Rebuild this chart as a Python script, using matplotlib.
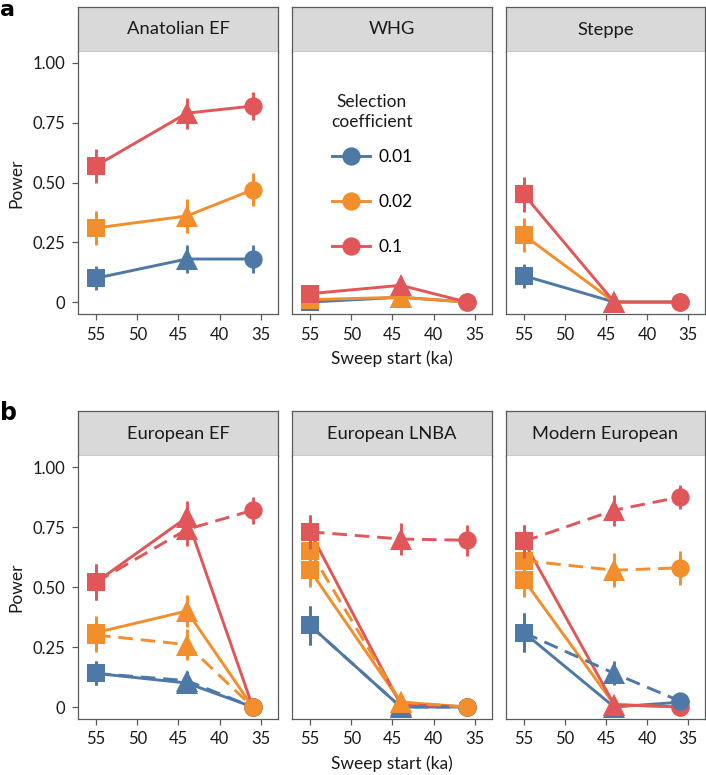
#!/usr/bin/env python3
"""
Selective sweep detection power by sweep start time, per population.
Panel a: source populations; panel b: European populations
(solid / dashed = two sampling scenarios).
"""

import matplotlib
matplotlib.use("Agg")
import matplotlib.pyplot as plt
from matplotlib.lines import Line2D

plt.rcParams["font.family"] = ["Lato", "DejaVu Sans"]

# ---- data -----------------------------------------------------------------
sweep_start = [55, 44, 36]
coef_labels = ["0.01", "0.02", "0.1"]
coef_colors = ["#4E79A7", "#F28E2B", "#E15759"]
shapes = ["s", "^", "o"]

pops_a = ["Anatolian EF", "WHG", "Steppe"]
power_a = {
    "Anatolian EF": [[0.10, 0.18, 0.18], [0.31, 0.36, 0.47], [0.57, 0.79, 0.82]],
    "WHG": [[0.0, 0.02, 0.0], [0.01, 0.02, 0.0], [0.035, 0.07, 0.0]],
    "Steppe": [[0.11, 0.0, 0.0], [0.28, 0.0, 0.0], [0.45, 0.0, 0.0]],
}
err_a = {
    "Anatolian EF": [[0.05, 0.06, 0.06], [0.07, 0.07, 0.07], [0.07, 0.065, 0.06]],
    "WHG": [[0.0, 0.02, 0.0], [0.015, 0.02, 0.0], [0.025, 0.035, 0.0]],
    "Steppe": [[0.05, 0.0, 0.0], [0.07, 0.0, 0.0], [0.075, 0.0, 0.0]],
}

pops_b = ["European EF", "European LNBA", "Modern European"]
power_b_solid = {
    "European EF": [[0.14, 0.10, 0.0], [0.31, 0.40, 0.0], [0.52, 0.79, 0.0]],
    "European LNBA": [[0.34, 0.0, 0.0], [0.57, 0.02, 0.0], [0.73, 0.01, 0.0]],
    "Modern European": [[0.31, 0.0, 0.02], [0.53, 0.01, 0.0], [0.69, 0.01, 0.0]],
}
power_b_dashed = {
    "European EF": [[0.14, 0.11, 0.0], [0.30, 0.26, 0.0], [0.52, 0.74, 0.82]],
    "European LNBA": [[0.34, 0.0, 0.0], [0.65, 0.02, 0.0], [0.73, 0.70, 0.695]],
    "Modern European": [[0.31, 0.14, 0.025], [0.61, 0.57, 0.58], [0.69, 0.82, 0.875]],
}
err_b_solid = {
    "European EF": [[0.05, 0.04, 0.0], [0.07, 0.065, 0.0], [0.075, 0.07, 0.0]],
    "European LNBA": [[0.08, 0.0, 0.0], [0.07, 0.02, 0.0], [0.07, 0.01, 0.0]],
    "Modern European": [[0.08, 0.0, 0.02], [0.07, 0.01, 0.0], [0.07, 0.01, 0.0]],
}
err_b_dashed = {
    "European EF": [[0.05, 0.04, 0.0], [0.07, 0.065, 0.0], [0.075, 0.07, 0.057]],
    "European LNBA": [[0.08, 0.0, 0.0], [0.07, 0.02, 0.0], [0.07, 0.065, 0.065]],
    "Modern European": [[0.08, 0.05, 0.02], [0.07, 0.07, 0.07], [0.07, 0.065, 0.05]],
}

# ---- layout helpers ------------------------------------------------------
W, H = 706, 775
FRAME = "#5a5a5a"
TXT = "#1a1a1a"
MS = {"s": 13.3, "^": 16.5, "o": 13.2}
LW = 2.1


def px_rect(x0, y0, x1, y1):
    return [x0 / W, 1 - y1 / H, (x1 - x0) / W, (y1 - y0) / H]


def make_panel(fig, x0, x1, strip_top, plot_top, plot_bot, title, left):
    sax = fig.add_axes(px_rect(x0, strip_top, x1, plot_top))
    sax.set_facecolor("#d9d9d9")
    sax.set_xticks([])
    sax.set_yticks([])
    for sp in sax.spines.values():
        sp.set_color(FRAME)
        sp.set_linewidth(0.9)
    sax.text(0.5, 0.5, title, ha="center", va="center", fontsize=13.2,
             color=TXT, transform=sax.transAxes)

    ax = fig.add_axes(px_rect(x0, plot_top, x1, plot_bot))
    ax.set_xlim(57.18, 32.94)
    ax.set_ylim(-0.05, 1.046)
    for sp in ax.spines.values():
        sp.set_color(FRAME)
        sp.set_linewidth(0.9)
    ax.spines["top"].set_visible(False)
    ax.set_xticks([55, 50, 45, 40, 35])
    ax.tick_params(axis="x", length=4, width=0.9, color=FRAME,
                   labelsize=12, labelcolor=TXT, pad=5)
    if left:
        ax.set_yticks([0, 0.25, 0.5, 0.75, 1.0])
        ax.set_yticklabels(["0", "0.25", "0.50", "0.75", "1.00"])
        ax.tick_params(axis="y", length=4, width=0.9, color=FRAME,
                       labelsize=12, labelcolor=TXT, pad=5)
        ax.set_ylabel("Power", fontsize=12.5, color=TXT, labelpad=6)
    else:
        ax.set_yticks([])
    return ax


def draw_series(ax, y, err, color, dashed=False):
    for xi, yi, ei in zip(sweep_start, y, err):
        if ei > 0:
            ax.plot([xi, xi], [yi - ei, yi + ei], color=color, lw=LW,
                    solid_capstyle="butt")
    kw = dict(color=color, lw=LW)
    if dashed:
        kw["dashes"] = (5.0, 2.7)
    ax.plot(sweep_start, y, **kw)
    for xi, yi, m in zip(sweep_start, y, shapes):
        ax.plot([xi], [yi], marker=m, ms=MS[m], mew=0, color=color,
                linestyle="none")


def main():
    fig = plt.figure(figsize=(W / 100, H / 100), dpi=100)

    cols = [(78, 278), (292, 492), (506, 705)]

    # panel a
    axes_a = []
    for i, pop in enumerate(pops_a):
        ax = make_panel(fig, cols[i][0], cols[i][1], 7, 52, 314, pop, i == 0)
        for c in range(3):
            draw_series(ax, power_a[pop][c], err_a[pop][c], coef_colors[c])
        axes_a.append(ax)
    axes_a[1].set_xlabel("Sweep start (ka)", fontsize=12.5, color=TXT,
                         labelpad=6)

    # legend (title drawn separately so its gap can be set)
    lax = axes_a[1]
    lax.text(0.40, 0.771, "Selection\ncoefficient", ha="center", va="center",
             fontsize=12.5, color=TXT, linespacing=1.25,
             transform=lax.transAxes)
    handles = [Line2D([0], [0], color=coef_colors[c], lw=LW, marker="o",
                      ms=13.2, mew=0) for c in range(3)]
    lax.legend(handles, coef_labels, loc="center left",
               bbox_to_anchor=(0.2, 0.427), frameon=False, fontsize=12.5,
               handlelength=2.2, handletextpad=0.5, labelspacing=1.67,
               borderpad=0, borderaxespad=0)

    # panel b
    axes_b = []
    for i, pop in enumerate(pops_b):
        ax = make_panel(fig, cols[i][0], cols[i][1], 411, 456, 719, pop, i == 0)
        for c in range(3):
            draw_series(ax, power_b_solid[pop][c], err_b_solid[pop][c],
                        coef_colors[c])
        for c in range(3):
            draw_series(ax, power_b_dashed[pop][c], err_b_dashed[pop][c],
                        coef_colors[c], dashed=True)
        axes_b.append(ax)
    axes_b[1].set_xlabel("Sweep start (ka)", fontsize=12.5, color=TXT,
                         labelpad=6)

    fig.text(0 / W, 1 - 0.5 / H, "a", fontsize=16, fontweight="bold",
             ha="left", va="top", family=["DejaVu Sans"])
    fig.text(0 / W, 1 - 420 / H, "b", fontsize=17, fontweight="bold",
             ha="left", va="baseline", family=["DejaVu Sans"])

    fig.savefig("out.png", dpi=100)


if __name__ == "__main__":
    main()
